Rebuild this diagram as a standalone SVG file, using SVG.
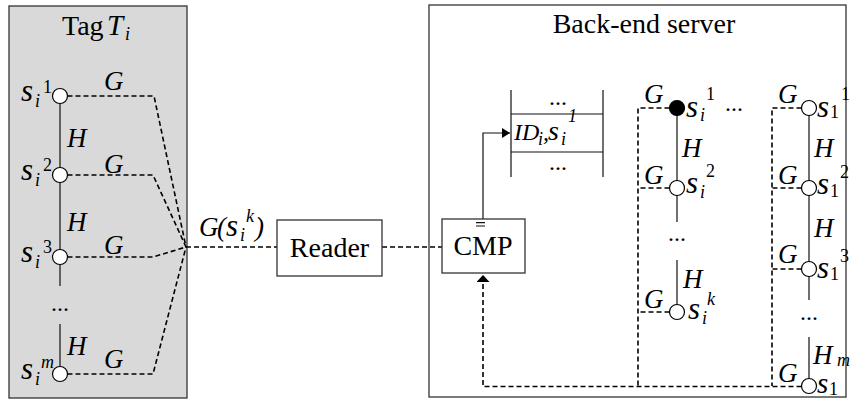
<svg xmlns="http://www.w3.org/2000/svg" width="852" height="401" viewBox="0 0 852 401">
  <defs>
    <style>
      .frame { fill: #fff; stroke: #333; stroke-width: 1.3; }
      .tagbg { fill: #d9d9d9; stroke: #333; stroke-width: 1.3; }
      .ln { fill: none; stroke: #111; stroke-width: 1.2; }
      .dash { fill: none; stroke: #000; stroke-width: 1.6; stroke-dasharray: 5 3; }
      .nd { fill: #fff; stroke: #000; stroke-width: 1.2; }
      .ndf { fill: #000; stroke: #000; stroke-width: 1.2; }
      text { font-family: "Liberation Serif", "Times New Roman", serif; fill: #000; }
      .big { font-size: 28px; }
      .lbl { font-size: 27px; font-style: italic; }
      .s { font-size: 31px; font-style: italic; }
      .sub { font-size: 18px; font-style: italic; }
      .sup { font-size: 18px; }
      .supi { font-size: 18px; font-style: italic; }
      .dots { font-size: 24px; text-anchor: middle; }
    </style>
    <marker id="headR" viewBox="0 0 8 10" refX="8" refY="5" markerWidth="8" markerHeight="10" markerUnits="userSpaceOnUse" orient="auto">
      <path d="M0 0 L8 5 L0 10 z" fill="#000"/>
    </marker>
    <marker id="headUp" viewBox="0 0 7 13" refX="7" refY="6.5" markerWidth="7" markerHeight="13" markerUnits="userSpaceOnUse" orient="auto">
      <path d="M0 0 L7 6.5 L0 13 z" fill="#000"/>
    </marker>
  </defs>

  <!-- tag enclosure -->
  <g id="tag">
    <rect class="tagbg" x="9" y="6" width="178" height="392"/>
    <text class="big" x="62" y="35">Tag</text>
    <text class="lbl" x="107" y="35" style="font-size:29px">T</text>
    <text class="sub" x="125" y="40">i</text>
  </g>

  <!-- back-end server enclosure -->
  <g id="server">
    <rect class="frame" x="429" y="5" width="417" height="392"/>
    <text class="big" x="644" y="33" text-anchor="middle">Back-end server</text>
  </g>

  <!-- connectors -->
  <g id="connectors">
    <!-- tag chain links (hash H) -->
    <path class="ln" d="M60 96 V286 M60 324 V374"/>
    <!-- tag outputs G(s) merging toward the reader -->
    <path class="dash" d="M67.5 96 H154 L186 247"/>
    <path class="dash" d="M67.5 175 H153 L186 247"/>
    <path class="dash" d="M67.5 257 H153 L186 247"/>
    <path class="dash" d="M67.5 374 H153 L186 247"/>
    <path class="dash" d="M186 247 H277"/>
    <path class="dash" d="M382 247 H442"/>
    <!-- CMP to table -->
    <path class="ln" d="M483 219 V133 H510" marker-end="url(#headR)"/>
    <!-- server chain links -->
    <path class="ln" d="M677 108 V222 M677 260 V312"/>
    <path class="ln" d="M809 108 V300 M809 337 V386"/>
    <!-- server G outputs feeding CMP -->
    <path class="dash" d="M669.5 108 H638 V386"/>
    <path class="dash" d="M669.5 188 H638"/>
    <path class="dash" d="M669.5 312 H638"/>
    <path class="dash" d="M801.5 108 H772 V386"/>
    <path class="dash" d="M801.5 188 H772"/>
    <path class="dash" d="M801.5 269 H772"/>
    <path class="dash" d="M801.5 386.5 H483 V275" marker-end="url(#headUp)"/>
  </g>

  <!-- tag nodes -->
  <g id="tag-s1">
    <circle class="nd" cx="60" cy="96" r="7.5"/>
    <text class="s" x="21" y="101">s</text>
    <text class="sub" x="35" y="107">i</text>
    <text class="sup" x="43" y="93">1</text>
    <text class="lbl" x="104" y="90">G</text>
    <text class="lbl" x="67" y="147">H</text>
  </g>
  <g id="tag-s2">
    <circle class="nd" cx="60" cy="175" r="7.5"/>
    <text class="s" x="21" y="180">s</text>
    <text class="sub" x="35" y="186">i</text>
    <text class="sup" x="43" y="171">2</text>
    <text class="lbl" x="104" y="173">G</text>
    <text class="lbl" x="67" y="231">H</text>
  </g>
  <g id="tag-s3">
    <circle class="nd" cx="60" cy="257" r="7.5"/>
    <text class="s" x="21" y="262">s</text>
    <text class="sub" x="35" y="268">i</text>
    <text class="sup" x="43" y="253">3</text>
    <text class="lbl" x="104" y="254">G</text>
    <text class="dots" x="60" y="311">...</text>
  </g>
  <g id="tag-sm">
    <circle class="nd" cx="60" cy="374" r="7.5"/>
    <text class="s" x="21" y="379">s</text>
    <text class="sub" x="35" y="385">i</text>
    <text class="supi" x="41" y="368">m</text>
    <text class="lbl" x="104" y="368">G</text>
    <text class="lbl" x="67" y="355">H</text>
  </g>

  <!-- broadcast response label -->
  <g id="response-label">
    <text class="lbl" x="199" y="236">G</text>
    <text class="lbl" x="217" y="236">(</text>
    <text class="s" x="226" y="236">s</text>
    <text class="sub" x="240" y="241">i</text>
    <text class="supi" x="246" y="222">k</text>
    <text class="lbl" x="255" y="236">)</text>
  </g>

  <!-- reader -->
  <g id="reader">
    <rect class="frame" x="277" y="220" width="105" height="56"/>
    <text class="big" x="329.5" y="257" text-anchor="middle">Reader</text>
  </g>

  <!-- comparator -->
  <g id="cmp">
    <rect class="frame" x="442" y="219" width="83" height="54"/>
    <text class="big" x="483" y="255" text-anchor="middle">CMP</text>
    <path class="ln" d="M476 222.7 H485 M476 226 H485"/>
  </g>

  <!-- identifier table -->
  <g id="id-table">
    <path class="ln" d="M511 90 V177 M603 90 V177 M511 114 H603 M511 152 H603"/>
    <text class="dots" x="558" y="105">...</text>
    <text class="dots" x="558" y="170">...</text>
    <text class="lbl" x="514" y="140" style="font-size:24px">ID</text>
    <text class="sub" x="538" y="145">i</text>
    <text class="lbl" x="543" y="140" style="font-size:24px">,</text>
    <text class="s" x="548" y="140" style="font-size:28px">s</text>
    <text class="sub" x="561" y="145">i</text>
    <text class="supi" x="568" y="122">1</text>
  </g>

  <!-- server chain for tag i -->
  <g id="srv-si1">
    <circle class="ndf" cx="677" cy="108" r="7.5"/>
    <text class="lbl" x="644" y="103">G</text>
    <text class="s" x="686" y="117">s</text>
    <text class="sub" x="700" y="121">i</text>
    <text class="sup" x="706" y="100">1</text>
    <text class="lbl" x="682" y="157">H</text>
  </g>
  <g id="srv-si2">
    <circle class="nd" cx="677" cy="188" r="7.5"/>
    <text class="lbl" x="644" y="184">G</text>
    <text class="s" x="686" y="193">s</text>
    <text class="sub" x="700" y="198">i</text>
    <text class="sup" x="706" y="177">2</text>
    <text class="dots" x="677" y="241">...</text>
  </g>
  <g id="srv-sik">
    <circle class="nd" cx="677" cy="312" r="7.5"/>
    <text class="lbl" x="644" y="308">G</text>
    <text class="lbl" x="683" y="288">H</text>
    <text class="s" x="688" y="319">s</text>
    <text class="sub" x="702" y="324">i</text>
    <text class="supi" x="707" y="305">k</text>
  </g>
  <text class="dots" x="734" y="111">...</text>

  <!-- server chain for tag 1 -->
  <g id="srv-s11">
    <circle class="nd" cx="809" cy="108" r="7.5"/>
    <text class="lbl" x="778" y="103">G</text>
    <text class="s" x="817" y="117">s</text>
    <text class="sup" x="830" y="118">1</text>
    <text class="sup" x="841" y="100">1</text>
    <text class="lbl" x="814" y="157">H</text>
  </g>
  <g id="srv-s12">
    <circle class="nd" cx="809" cy="188" r="7.5"/>
    <text class="lbl" x="778" y="184">G</text>
    <text class="s" x="817" y="194">s</text>
    <text class="sup" x="830" y="197">1</text>
    <text class="sup" x="840" y="178">2</text>
    <text class="lbl" x="814" y="237">H</text>
  </g>
  <g id="srv-s13">
    <circle class="nd" cx="809" cy="269" r="7.5"/>
    <text class="lbl" x="778" y="263">G</text>
    <text class="s" x="817" y="278">s</text>
    <text class="sup" x="830" y="280">1</text>
    <text class="sup" x="840" y="262">3</text>
    <text class="dots" x="809" y="320">...</text>
  </g>
  <g id="srv-s1m">
    <circle class="nd" cx="809" cy="386" r="7.5"/>
    <text class="lbl" x="778" y="382">G</text>
    <text class="lbl" x="813" y="364">H</text>
    <text class="s" x="817" y="393" style="font-size:29px">s</text>
    <text class="sup" x="829" y="395">1</text>
    <text class="supi" x="837" y="366">m</text>
  </g>
</svg>
